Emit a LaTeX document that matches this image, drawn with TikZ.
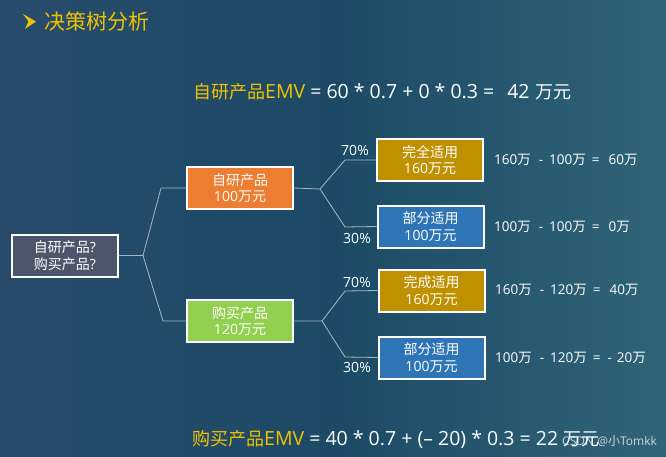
\documentclass[tikz,border=0pt]{standalone}
\usepackage{fontspec}
\setmainfont{Open Sans}
\newfontfamily\cjk{Noto Sans CJK SC}
\newcommand{\zh}[1]{{\cjk #1}}
\newcommand{\zhs}[1]{{\cjk\fontsize{18pt}{20pt}\selectfont #1}}
\usetikzlibrary{calc}
\definecolor{bgL}{HTML}{284B6C}
\definecolor{bgM}{HTML}{1C4A66}
\definecolor{bgR}{HTML}{306478}
\definecolor{ttl}{HTML}{F2C200}
\definecolor{cRoot}{HTML}{4B566B}
\definecolor{cOr}{HTML}{ED7D31}
\definecolor{cGr}{HTML}{92D050}
\definecolor{cGd}{HTML}{BF9000}
\definecolor{cBl}{HTML}{2E75B6}
\definecolor{lnc}{HTML}{A9B8C6}
\tikzset{
  dbox/.style={draw=white,line width=2pt,minimum width=106pt,minimum height=42pt,
    inner sep=0pt,align=center,text=white,font=\fontsize{14pt}{16.5pt}\selectfont},
  conn/.style={draw=lnc,line width=0.8pt},
  pct/.style={text=white,font=\fontsize{14pt}{16pt}\selectfont,inner sep=0pt},
  res/.style={text=white,font=\fontsize{13.5pt}{15pt}\selectfont,inner sep=0pt,anchor=west},
  emv/.style={text=white,font=\fontsize{19.5pt}{22pt}\selectfont,inner sep=0pt,anchor=west}
}
\newcommand{\gp}[1]{\hspace{#1pt}}
\begin{document}
\begin{tikzpicture}[x=1pt,y=-1pt]
\shade[left color=bgL,right color=bgR,middle color=bgM] (0,0) rectangle (666,457);
\useasboundingbox (0,0) rectangle (666,457);
% title
\fill[ttl] (23,14) -- (36,21.5) -- (25,29) -- (28.5,21.5) -- cycle;
\node[anchor=west,inner sep=0pt,text=ttl,font=\fontsize{21pt}{23pt}\selectfont] (title) at (44,22) {\zh{决策树分析}};
% EMV 1
\node[emv] (emv1) at (193,92) {\textcolor{ttl}{\zhs{自研产品}EMV} = 60 * 0.7 + 0 * 0.3 =\gp{13}42\gp{1} \zhs{万元}};
% boxes
\node[dbox,fill=cRoot] (root) at (65,255.5) {\zh{自研产品}?\\\zh{购买产品}?};
\node[dbox,fill=cOr] (zy) at (240,188) {\zh{自研产品}\\100\zh{万元}};
\node[dbox,fill=cGr] (gm) at (240,321) {\zh{购买产品}\\120\zh{万元}};
\node[dbox,fill=cGd] (a) at (430,160) {\zh{完全适用}\\160\zh{万元}};
\node[dbox,fill=cBl] (b) at (430.5,226.5) {\zh{部分适用}\\100\zh{万元}};
\node[dbox,fill=cGd] (c) at (431.5,290.5) {\zh{完成适用}\\160\zh{万元}};
\node[dbox,fill=cBl] (d) at (431.5,357.5) {\zh{部分适用}\\100\zh{万元}};
% junctions
\coordinate (j0) at (143,255.5);
\coordinate (j0u) at (161,188);
\coordinate (j0d) at (163,321);
\coordinate (j1) at (320,189);
\coordinate (j1u) at (345,160);
\coordinate (j1d) at (345,227);
\coordinate (j2) at (322,321);
\coordinate (j2u) at (345,291);
\coordinate (j2d) at (345,357);
\draw[conn] (root.east) -- (j0) -- (j0u) -- (zy.west);
\draw[conn] (j0) -- (j0d) -- (gm.west);
\draw[conn] (zy.east) -- (j1) -- (j1u) -- (a.west);
\draw[conn] (j1) -- (j1d) -- (b.west);
\draw[conn] (gm.east) -- (j2) -- (j2u) -- (c.west);
\draw[conn] (j2) -- (j2d) -- (d.west);
% percentages
\node[pct] (p1) at (355,150) {70\%};
\node[pct] (p2) at (357,238) {30\%};
\node[pct] (p3) at (357,282) {70\%};
\node[pct] (p4) at (357,367) {30\%};
% results
\node[res] (r1) at (494,160) {160\zh{万}\gp{8}-\gp{6}100\zh{万}\gp{6}=\gp{9}60\zh{万}};
\node[res] (r2) at (494,227) {100\zh{万}\gp{8}-\gp{6}100\zh{万}\gp{6}=\gp{9}0\zh{万}};
\node[res] (r3) at (495,290) {160\zh{万}\gp{8}-\gp{6}120\zh{万}\gp{6}=\gp{9}40\zh{万}};
\node[res] (r4) at (495,358) {100\zh{万}\gp{8}-\gp{6}120\zh{万}\gp{6}=\gp{7}-\gp{5}20\zh{万}};
% EMV 2
\node[emv] (emv2) at (192,439) {\textcolor{ttl}{\zhs{购买产品}EMV} = 40 * 0.7 + (– 20) * 0.3 = 22 \zhs{万元}};
\node[anchor=west,inner sep=0pt,text=white,opacity=0.75,font=\fontsize{12pt}{14pt}\selectfont] (wm) at (562,441) {CSDN @\zh{小}Tomkk};
\end{tikzpicture}
\end{document}
